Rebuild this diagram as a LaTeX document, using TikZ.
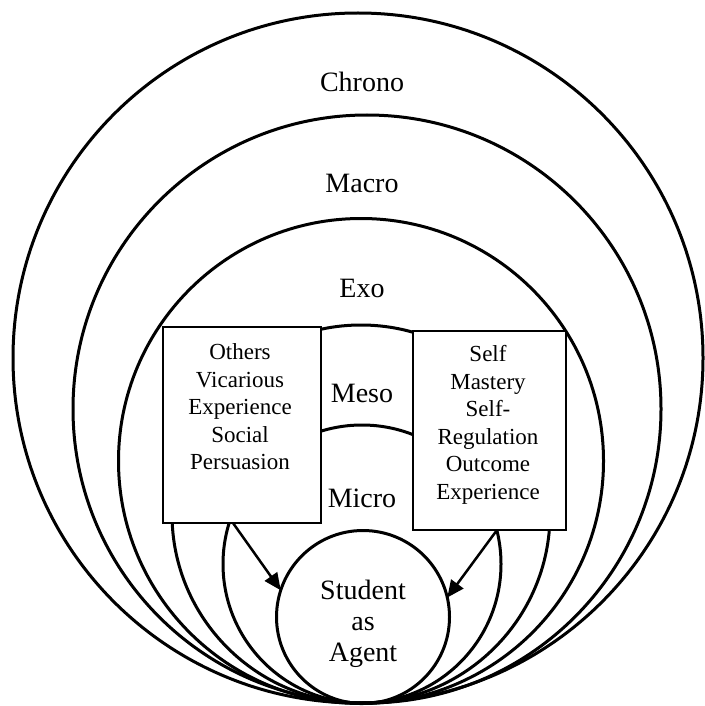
\documentclass[tikz,border=0pt]{standalone}
\usepackage{fontspec}
\setmainfont{Liberation Serif}
\usetikzlibrary{arrows.meta}
\begin{document}
\begin{tikzpicture}[x=1pt,y=-1pt,
  ring/.style={circle, draw, line width=3pt, inner sep=0pt, outer sep=0pt},
  panel/.style={rectangle, draw, line width=1.5pt, fill=white, inner sep=0pt, outer sep=0pt},
  lbl/.style={font=\fontsize{28}{31}\selectfont, align=center, inner sep=0pt},
  boxtext/.style={font=\fontsize{23}{27.5}\selectfont, align=center, inner sep=0pt},
  arr/.style={line width=2.5pt, -{Triangle[length=17pt,width=15pt]}}]
\useasboundingbox[fill=white] (0,0) rectangle (704,706);
% nested rings, all tangent at the bottom
\node[ring, minimum size=690pt] (chrono) at (358,358) {};
\node[ring, minimum size=588pt] (macro) at (367,409) {};
\node[ring, minimum size=485pt] (exo) at (361,461) {};
\node[ring, minimum size=378pt] (meso) at (361,514) {};
\node[ring, minimum size=278pt] (micro) at (362,564) {};
\node[ring, minimum size=173pt] (student) at (363,617) {};
\node[lbl] (tstudent) at (363,624) {Student\\as\\Agent};
% boxes
\node[panel, minimum width=158pt, minimum height=196pt] (lbox) at (242,425) {};
\node[panel, minimum width=153pt, minimum height=199pt] (rbox) at (489.5,430.5) {};
% labels
\node[lbl] (tchrono) at (362,82) {Chrono};
\node[lbl] (tmacro) at (362,183) {Macro};
\node[lbl] (texo) at (362,288) {Exo};
\node[lbl] (tmeso) at (362,393) {Meso};
\node[lbl] (tmicro) at (362,498) {Micro};
\node[boxtext] (ltext) at (240,407) {Others\\Vicarious\\Experience\\Social\\Persuasion};
\node[boxtext] (rtext) at (488,425) {Self\\Mastery\\Self-\\Regulation\\Outcome\\Experience};
% arrows
\coordinate (la) at (233,523);
\coordinate (ra) at (497,530);
\draw[arr] (la) -- (student.162.6);
\draw[arr] (ra) -- (student.13.2);
\end{tikzpicture}
\end{document}
